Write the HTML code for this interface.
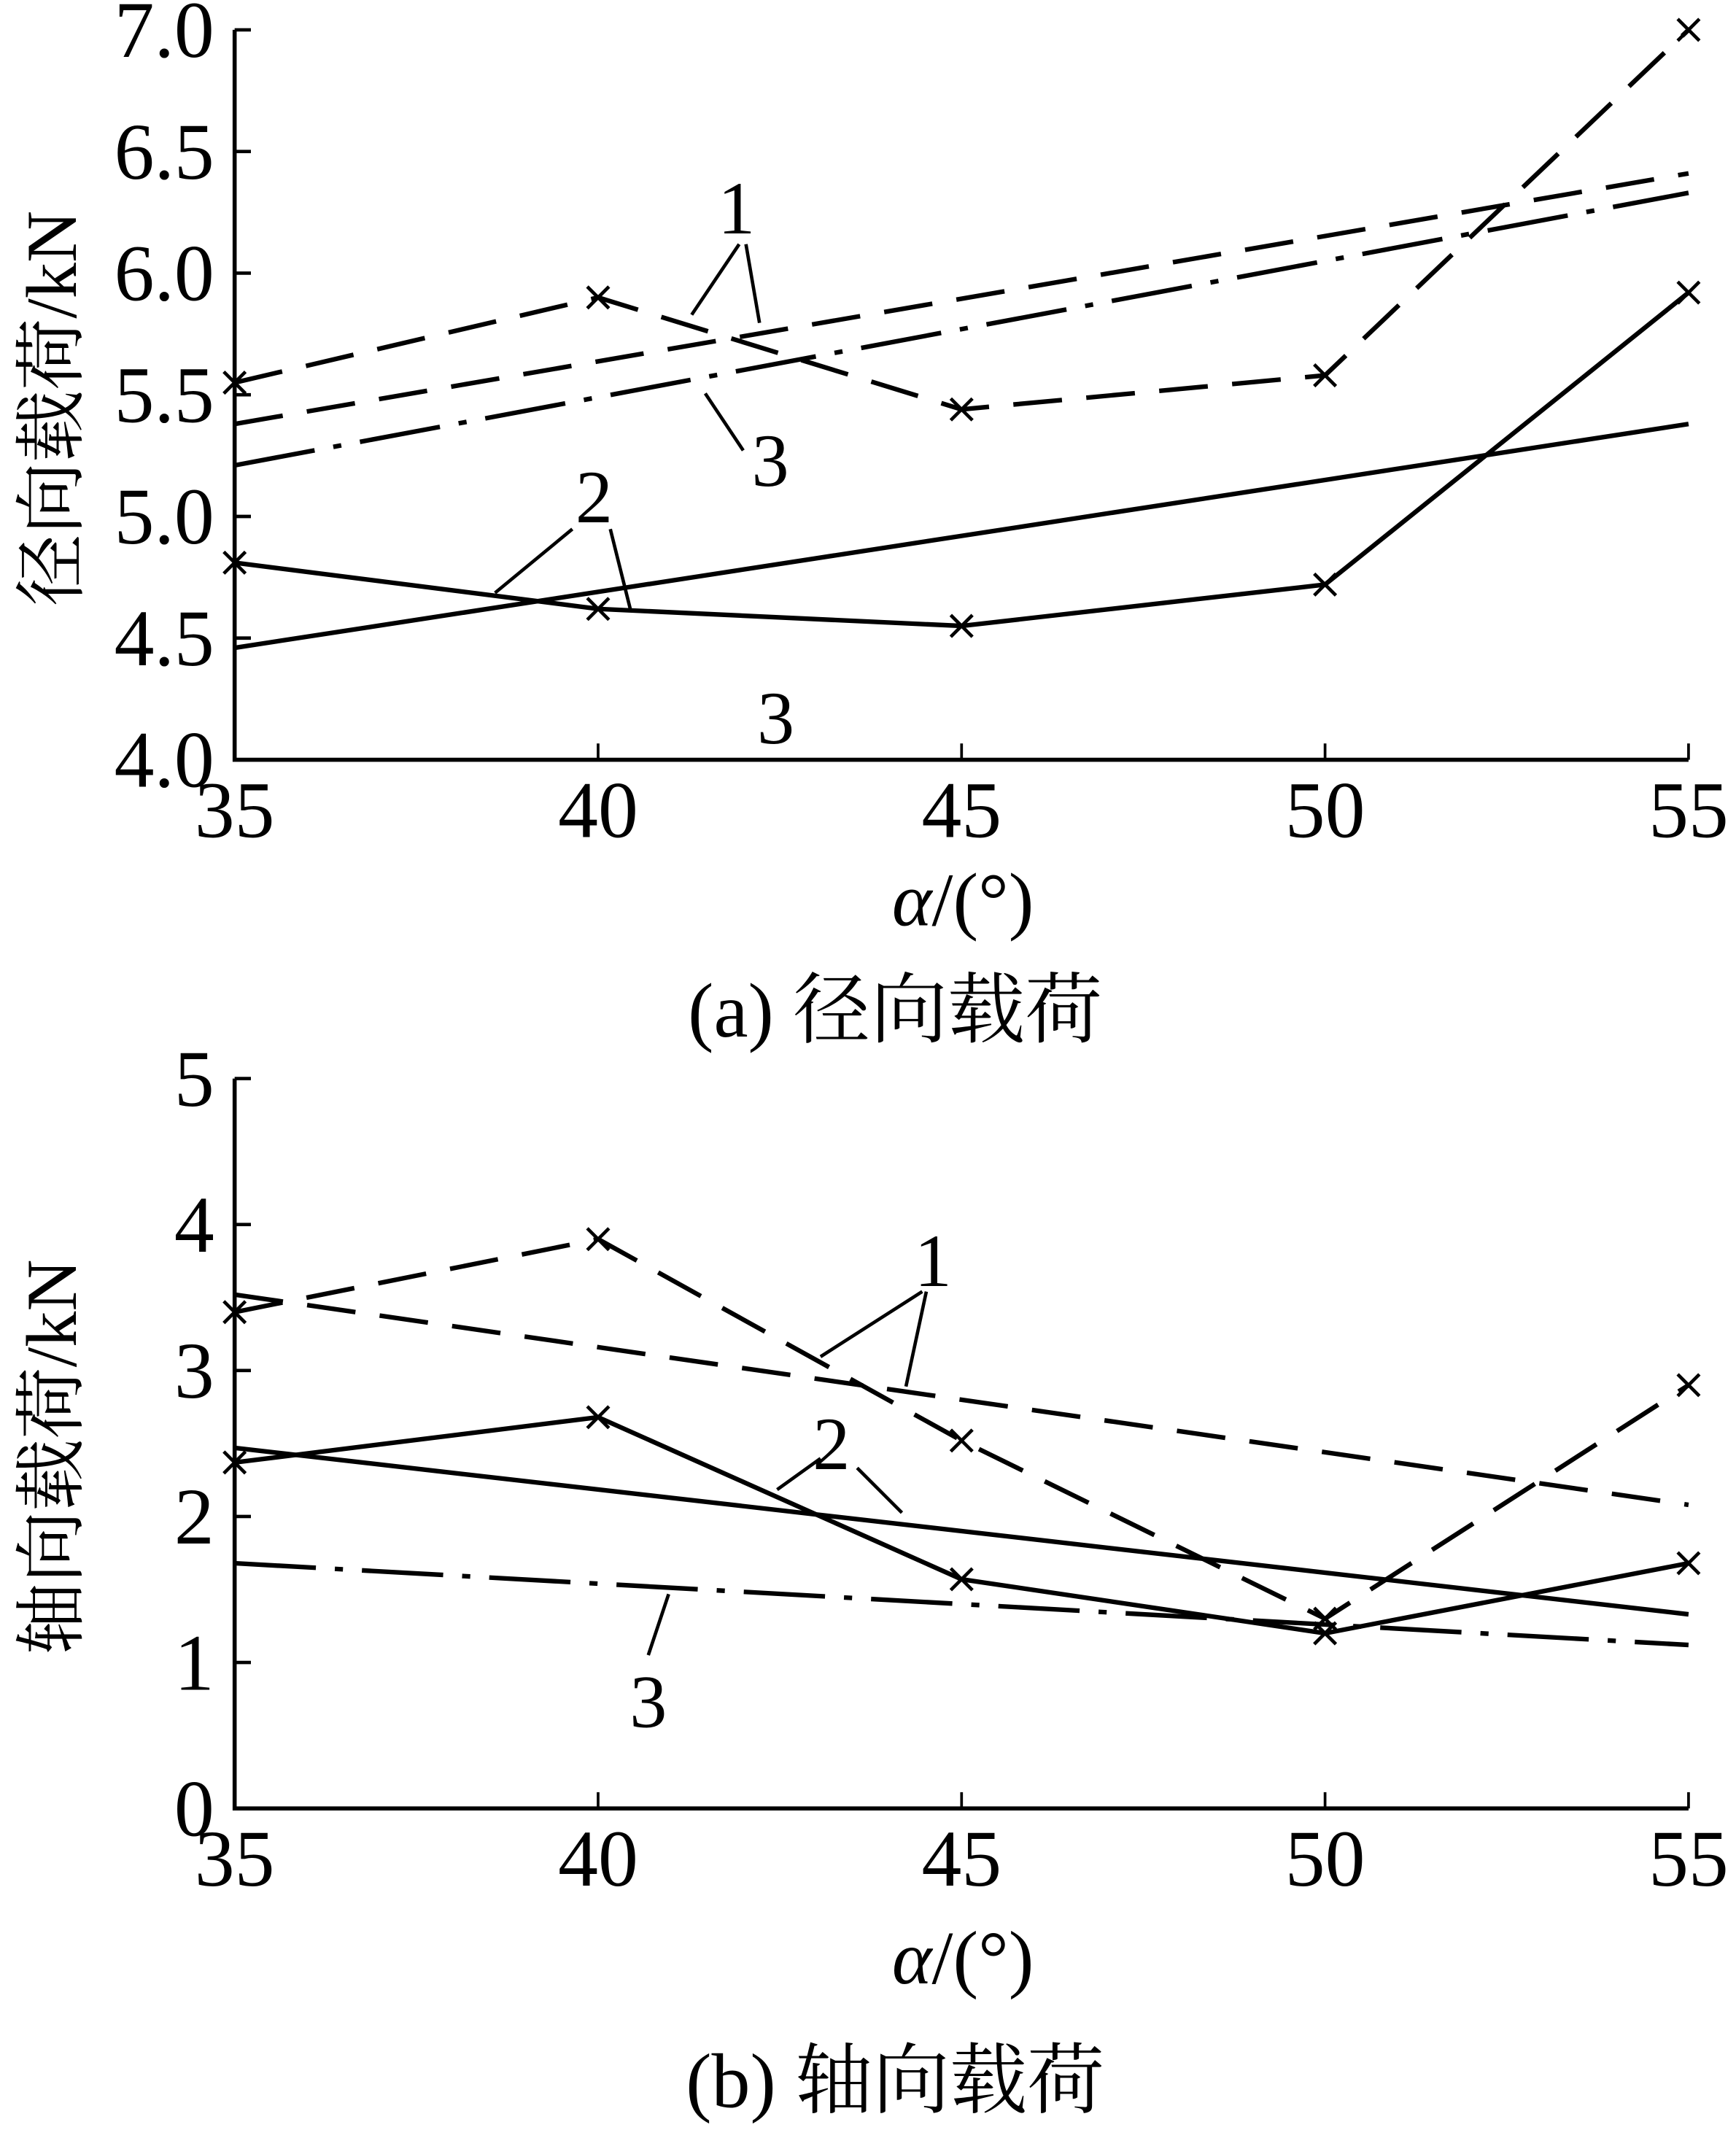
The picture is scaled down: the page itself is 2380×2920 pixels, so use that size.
<!DOCTYPE html>
<html><head><meta charset="utf-8"><style>
html,body{margin:0;padding:0;background:#fff}
svg{display:block}
text{font-family:"Liberation Serif","Noto Serif CJK SC","Noto Sans CJK SC",serif;fill:#000}
</style></head><body>
<svg id="chart" width="2380" height="2920" viewBox="0 0 1280 1570" preserveAspectRatio="none" xmlns="http://www.w3.org/2000/svg">
<g id="ga"></g>
<g id="gb"></g>
</svg>
<script>
const xCats=[35,40,45,50,55];
const aTicks=["4.0","4.5","5.0","5.5","6.0","6.5","7.0"];
const aTickVals=[4.0,4.5,5.0,5.5,6.0,6.5,7.0];
const a1Marked=[5.55,5.90,5.44,5.58,7.0];
const a1Fit=[5.38,6.41];
const a3Fit=[5.21,6.33];
const a2Marked=[4.81,4.62,4.55,4.72,5.92];
const a2Fit=[4.46,5.38];
const bTicks=["0","1","2","3","4","5"];
const bTickVals=[0,1,2,3,4,5];
const b1Marked=[3.40,3.90,2.52,1.30,2.90];
const b1Fit=[3.52,2.08];
const b2Marked=[2.37,2.68,1.57,1.20,1.68];
const b2Fit=[2.47,1.33];
const b3Fit=[1.68,1.12];
const fitX=[35,55];

const NS="http://www.w3.org/2000/svg";
function mk(p,tag,attrs){const e=document.createElementNS(NS,tag);for(const k in attrs)e.setAttribute(k,attrs[k]);p.appendChild(e);return e;}
const X=v=>173+(v-35)*(1245-173)/20;

function chart(g,Y,ticks,tickVals,ylabel,caption,capY,axisY){
  const ax=mk(g,'path',{d:`M173,${Y(tickVals[tickVals.length-1])} V${Y(tickVals[0])} H1245`,fill:'none',stroke:'#000','stroke-width':3});
  
  
  tickVals.forEach((v,i)=>{
    const t=mk(g,'line',{x1:173,x2:185,y1:Y(v),y2:Y(v),stroke:'#000','stroke-width':2.5});
    
    
    const l=mk(g,'text',{x:158,y:Y(v)+20,'text-anchor':'end','font-size':59});
    l.textContent=ticks[i];
    
    
  });
  xCats.forEach(c=>{
    const t=mk(g,'line',{x1:X(c),x2:X(c),y1:Y(tickVals[0]),y2:Y(tickVals[0])-12,stroke:'#000','stroke-width':2});
    
    
    const l=mk(g,'text',{x:X(c),y:Y(tickVals[0])+57,'text-anchor':'middle','font-size':59});
    l.textContent=c;
    
    
  });
  const xl=mk(g,'text',{x:710,y:axisY,'text-anchor':'middle','font-size':56});
  xl.innerHTML='<tspan font-style="italic">α</tspan>/(°)';
  
  
  const midY=(Y(tickVals[0])+Y(tickVals[tickVals.length-1]))/2;
  const yl=mk(g,'text',{x:0,y:0,'text-anchor':'middle','font-size':53,transform:`translate(56,${midY+10}) rotate(-90)`});
  yl.textContent=ylabel;
  
  
  const cp=mk(g,'text',{x:660,y:capY,'text-anchor':'middle','font-size':57});
  cp.textContent=caption;
  
  
}
function series(g,Y,xs,vals,dash,marks,name){
  const d=xs.map((x,i)=>(i?'L':'M')+X(x)+','+Y(vals[i])).join(' ');
  const p=mk(g,'path',{d:d,fill:'none',stroke:'#000','stroke-width':3.4,'stroke-dasharray':dash});
  
  
  if(marks){xs.forEach((x,i)=>{const cx=X(x),cy=Y(vals[i]),s=8;
    const m=mk(g,'path',{d:`M${cx-s},${cy-s}L${cx+s},${cy+s}M${cx-s},${cy+s}L${cx+s},${cy-s}`,stroke:'#000','stroke-width':2.5});
    
    
  });}
}
function label(g,txt,x,y,lines){
  const t=mk(g,'text',{x:x,y:y,'text-anchor':'middle','font-size':55});
  t.textContent=txt;
  
  
  lines.forEach(l=>{const e=mk(g,'line',{x1:l[0],y1:l[1],x2:l[2],y2:l[3],stroke:'#000','stroke-width':2.5});
    
    });
}
const ga=document.getElementById('ga');
const Ya=v=>560-(v-4)*(560-22)/3;
chart(ga,Ya,aTicks,aTickVals,'径向载荷/kN','(a) 径向载荷',764,682);
series(ga,Ya,xCats,a1Marked,'36 18',true,'series-1-measured');
series(ga,Ya,fitX,a1Fit,'36 18',false,'series-1-fit');
series(ga,Ya,fitX,a3Fit,'60 14 6 14',false,'series-3-fit');
series(ga,Ya,xCats,a2Marked,'',true,'series-2-measured');
series(ga,Ya,fitX,a2Fit,'',false,'series-2-fit');
label(ga,'1',543,172,[[510,232,545,180],[560,238,550,180]]);
label(ga,'3',568,358,[[520,290,548,332]]);
label(ga,'2',438,385,[[365,437,422,390],[465,450,450,390]]);
label(ga,'3',572,548,[]);

const gb=document.getElementById('gb');
const Yb=v=>1333-v*107.6;
chart(gb,Yb,bTicks,bTickVals,'轴向载荷/kN','(b) 轴向载荷',1553,1462);
series(gb,Yb,xCats,b1Marked,'36 18',true,'series-1-measured');
series(gb,Yb,fitX,b1Fit,'36 18',false,'series-1-fit');
series(gb,Yb,xCats,b2Marked,'',true,'series-2-measured');
series(gb,Yb,fitX,b2Fit,'',false,'series-2-fit');
series(gb,Yb,fitX,b3Fit,'60 14 6 14',false,'series-3-fit');
label(gb,'1',688,948,[[605,1000,680,952],[668,1022,683,952]]);
label(gb,'2',613,1083,[[573,1098,605,1075],[665,1115,632,1082]]);
label(gb,'3',478,1273,[[478,1220,493,1175]]);
</script>
</body></html>
